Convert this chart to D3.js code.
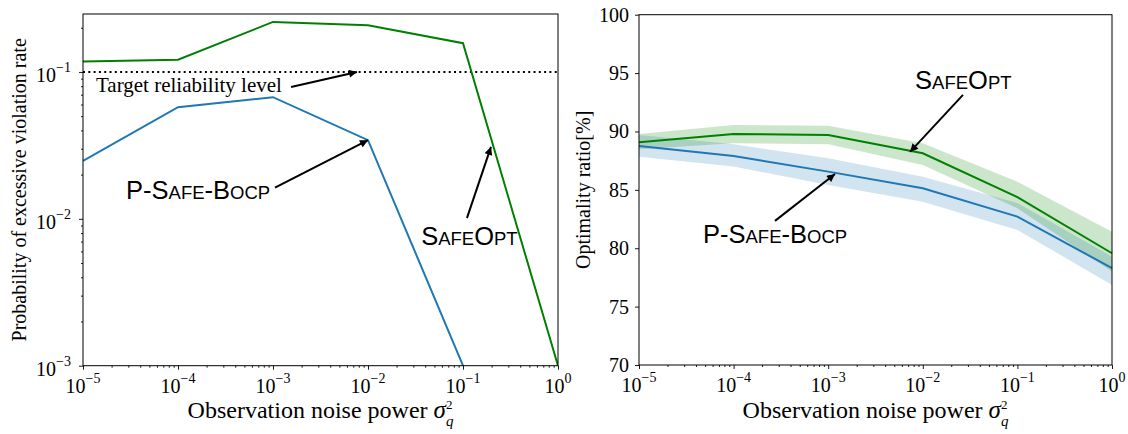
<!DOCTYPE html>
<html>
<head>
<meta charset="utf-8">
<script src="https://cdn.jsdelivr.net/npm/d3@7/dist/d3.min.js"></script>
<style>
  body { margin: 0; background: #fff; }
  svg { display: block; }
  .serif { font-family: "Liberation Serif", "Times New Roman", serif; }
  .sans { font-family: "Liberation Sans", Arial, sans-serif; }
</style>
</head>
<body>
<svg id="chart" width="1128" height="434"></svg>
<script>
// ---------------- DATA ----------------
const noise = [1e-5, 1e-4, 1e-3, 1e-2, 1e-1, 1];
const noiseTickExps = [-5, -4, -3, -2, -1, 0];

// Left panel: probability of excessive violation rate
const violSafeOpt = [0.118, 0.121, 0.219, 0.208, 0.157, 0.001];
const violPSafe   = [0.0248, 0.0575, 0.0673, 0.0343, 0.001, null];
const targetLevel = 0.1;
const violTickExps = [-3, -2, -1];

// Right panel: optimality ratio [%]
const optSafeOpt   = [89.08, 89.79, 89.70, 88.13, 84.37, 79.57];
const optSafeOptLo = [88.48, 88.99, 88.90, 87.13, 83.42, 78.00];
const optSafeOptHi = [89.79, 90.56, 90.50, 88.99, 85.70, 81.42];
const optPSafe     = [88.76, 87.90, 86.56, 85.14, 82.71, 78.29];
const optPSafeLo   = [87.84, 86.99, 85.42, 83.99, 81.57, 76.86];
const optPSafeHi   = [89.70, 88.90, 87.71, 86.13, 83.88, 79.28];
const optTicks = [70, 75, 80, 85, 90, 95, 100];

// Annotations (data coordinates): text anchor, arrow tail, arrow head
const leftNotes = [
  {label: "Target reliability level", kind: "serif", tx: 1.37e-5, ty: 0.073, ax: 1.55e-3, ay: 0.079, hx: 7.66e-3, hy: 0.1},
  {label: "P-Safe-Bocp", kind: "pscp", tx: 2.84e-5, ty: 0.01367, ax: 1.05e-3, ay: 0.0163, hx: 1e-2, hy: 0.0343},
  {label: "SafeOpt", kind: "so", tx: 0.0363, ty: 0.00665, ax: 0.110, ay: 0.0101, hx: 0.197, hy: 0.0309}
];
const rightNotes = [
  {label: "SafeOpt", kind: "so", tx: 8.28e-3, ty: 93.64, ax: 0.0266, ay: 93.13, hx: 7.33e-3, hy: 88.25},
  {label: "P-Safe-Bocp", kind: "pscp", tx: 4.75e-5, ty: 80.45, ax: 2.74e-4, ay: 82.34, hx: 1.18e-3, hy: 86.36}
];

// ---------------- LAYOUT ----------------
const svg = d3.select("#chart");
const BLUE = "#1f77b4", GREEN = "#008000";
const L = {x0: 83, x1: 558, y0: 14, y1: 365.7};
const R = {x0: 639, x1: 1112, y0: 14.7, y1: 365};

svg.append("defs").append("marker")
  .attr("id", "ah").attr("viewBox", "0 0 10 10").attr("refX", 10).attr("refY", 5)
  .attr("markerWidth", 9).attr("markerHeight", 8).attr("markerUnits", "userSpaceOnUse")
  .attr("orient", "auto")
  .append("path").attr("d", "M0,0 L10,5 L0,10 z").attr("fill", "#000");

const xL = d3.scaleLog().domain([1e-5, 1]).range([L.x0, L.x1]);
const yL = d3.scaleLog().domain([1e-3, 0.248]).range([L.y1, L.y0]);
const xR = d3.scaleLog().domain([1e-5, 1]).range([R.x0, R.x1]);
const yR = d3.scaleLinear().domain([70, 100]).range([R.y1, R.y0]);

function minorLogTicks(lo, hi) {
  const out = [];
  for (let e = Math.floor(Math.log10(lo)); e <= Math.ceil(Math.log10(hi)); e++) {
    for (let m = 2; m <= 9; m++) {
      const v = m * Math.pow(10, e);
      if (v > lo && v < hi) out.push(v);
    }
  }
  return out;
}

function powLabel(g, x, y, exp, anchor) {
  const t = g.append("text").attr("class", "serif").attr("x", x).attr("y", y)
    .attr("text-anchor", anchor).attr("font-size", 20).attr("fill", "#000");
  t.append("tspan").text("10");
  t.append("tspan").attr("dy", -10).attr("font-size", 14).text(exp < 0 ? "\u2212" + (-exp) : String(exp));
}

function xAxisLog(g, x, yBase) {
  const maj = g.append("g").attr("transform", `translate(0,${yBase})`)
    .call(d3.axisBottom(x).tickValues(noise).tickSize(4).tickFormat(""));
  const mn = g.append("g").attr("transform", `translate(0,${yBase})`)
    .call(d3.axisBottom(x).tickValues(minorLogTicks(1e-5, 1)).tickSize(2).tickFormat(""));
  [maj, mn].forEach(a => { a.select(".domain").remove(); a.selectAll("line").attr("stroke", "#000").attr("stroke-width", 0.9); });
  noise.forEach((v, i) => powLabel(g, x(v), yBase + 27, noiseTickExps[i], "middle"));
}

function frame(g, B) {
  g.append("rect").attr("x", B.x0).attr("y", B.y0).attr("width", B.x1 - B.x0).attr("height", B.y1 - B.y0)
    .attr("fill", "none").attr("stroke", "#000").attr("stroke-width", 1);
}

function xLabel(g, cx, y) {
  const t = g.append("text").attr("class", "serif").attr("x", cx).attr("y", y)
    .attr("text-anchor", "middle").attr("font-size", 24).attr("fill", "#000");
  t.append("tspan").text("Observation noise power ");
  t.append("tspan").attr("font-style", "italic").attr("font-size", 25).text("\u03c3");
  t.append("tspan").attr("font-style", "italic").attr("font-size", 15).attr("dy", 8).text("q");
  t.append("tspan").attr("font-size", 13).attr("dx", -7.5).attr("dy", -17).text("2");
}

function scText(g, x, y, kind) {
  const parts = kind === "pscp"
    ? [["P-S", 25.5], ["AFE", 18.5], ["-B", 25.5], ["OCP", 18.5]]
    : [["S", 25.5], ["AFE", 18.5], ["O", 25.5], ["PT", 18.5]];
  const t = g.append("text").attr("class", "sans").attr("x", x).attr("y", y).attr("fill", "#000");
  parts.forEach(p => t.append("tspan").attr("font-size", p[1]).text(p[0]));
}

function notes(g, list, x, y) {
  list.forEach(n => {
    g.append("line").attr("x1", x(n.ax)).attr("y1", y(n.ay)).attr("x2", x(n.hx)).attr("y2", y(n.hy))
      .attr("stroke", "#000").attr("stroke-width", 2).attr("marker-end", "url(#ah)");
    if (n.kind === "serif") {
      g.append("text").attr("class", "serif").attr("x", x(n.tx)).attr("y", y(n.ty))
        .attr("font-size", 21).attr("fill", "#000").text(n.label);
    } else {
      scText(g, x(n.tx), y(n.ty), n.kind);
    }
  });
}

// ---------------- LEFT PANEL ----------------
const gl = svg.append("g");
gl.append("clipPath").attr("id", "clipL").append("rect")
  .attr("x", L.x0).attr("y", L.y0).attr("width", L.x1 - L.x0).attr("height", L.y1 - L.y0 + 1);
const plotL = gl.append("g").attr("clip-path", "url(#clipL)");

plotL.append("line").attr("x1", L.x0).attr("x2", L.x1).attr("y1", yL(targetLevel)).attr("y2", yL(targetLevel))
  .attr("stroke", "#000").attr("stroke-width", 2).attr("stroke-dasharray", "2,3.3");

const lineL = d3.line().defined(d => d[1] != null).x(d => xL(d[0])).y(d => yL(d[1]));
plotL.append("path").datum(noise.map((v, i) => [v, violPSafe[i]])).attr("d", lineL)
  .attr("fill", "none").attr("stroke", BLUE).attr("stroke-width", 2);
plotL.append("path").datum(noise.map((v, i) => [v, violSafeOpt[i]])).attr("d", lineL)
  .attr("fill", "none").attr("stroke", GREEN).attr("stroke-width", 2);

// y axis left (log)
const yMaj = gl.append("g").attr("transform", `translate(${L.x0},0)`)
  .call(d3.axisLeft(yL).tickValues(violTickExps.map(e => Math.pow(10, e))).tickSize(4).tickFormat(""));
const yMin = gl.append("g").attr("transform", `translate(${L.x0},0)`)
  .call(d3.axisLeft(yL).tickValues(minorLogTicks(1e-3, 0.248)).tickSize(2).tickFormat(""));
[yMaj, yMin].forEach(a => { a.select(".domain").remove(); a.selectAll("line").attr("stroke", "#000").attr("stroke-width", 0.9); });
violTickExps.forEach(e => powLabel(gl, L.x0 - 12, yL(Math.pow(10, e)) + 10, e, "end"));
xAxisLog(gl, xL, L.y1);
frame(gl, L);

gl.append("text").attr("class", "serif").attr("font-size", 20).attr("text-anchor", "middle")
  .attr("transform", `translate(26,${(L.y0 + L.y1) / 2}) rotate(-90)`).text("Probability of excessive violation rate");
xLabel(gl, (L.x0 + L.x1) / 2, 418);
notes(gl, leftNotes, xL, yL);

// ---------------- RIGHT PANEL ----------------
const gr = svg.append("g");
const areaR = (lo, hi) => d3.area().x((d, i) => xR(noise[i])).y0((d, i) => yR(lo[i])).y1((d, i) => yR(hi[i]));
gr.append("path").attr("d", areaR(optPSafeLo, optPSafeHi)(noise)).attr("fill", BLUE).attr("fill-opacity", 0.2);
gr.append("path").attr("d", areaR(optSafeOptLo, optSafeOptHi)(noise)).attr("fill", GREEN).attr("fill-opacity", 0.2);
const lineR = d3.line().x(d => xR(d[0])).y(d => yR(d[1]));
gr.append("path").datum(noise.map((v, i) => [v, optPSafe[i]])).attr("d", lineR)
  .attr("fill", "none").attr("stroke", BLUE).attr("stroke-width", 2);
gr.append("path").datum(noise.map((v, i) => [v, optSafeOpt[i]])).attr("d", lineR)
  .attr("fill", "none").attr("stroke", GREEN).attr("stroke-width", 2);

const yAxR = gr.append("g").attr("transform", `translate(${R.x0},0)`)
  .call(d3.axisLeft(yR).tickValues(optTicks).tickSize(4).tickFormat(""));
yAxR.select(".domain").remove();
yAxR.selectAll("line").attr("stroke", "#000").attr("stroke-width", 0.9);
optTicks.forEach(v => gr.append("text").attr("class", "serif").attr("x", R.x0 - 10).attr("y", yR(v) + 7)
  .attr("text-anchor", "end").attr("font-size", 20).text(v));
xAxisLog(gr, xR, R.y1);
frame(gr, R);

gr.append("text").attr("class", "serif").attr("font-size", 20).attr("text-anchor", "middle")
  .attr("transform", `translate(590,${(R.y0 + R.y1) / 2}) rotate(-90)`).text("Optimality ratio[%]");
xLabel(gr, (R.x0 + R.x1) / 2, 418);
notes(gr, rightNotes, xR, yR);
</script>
</body>
</html>
